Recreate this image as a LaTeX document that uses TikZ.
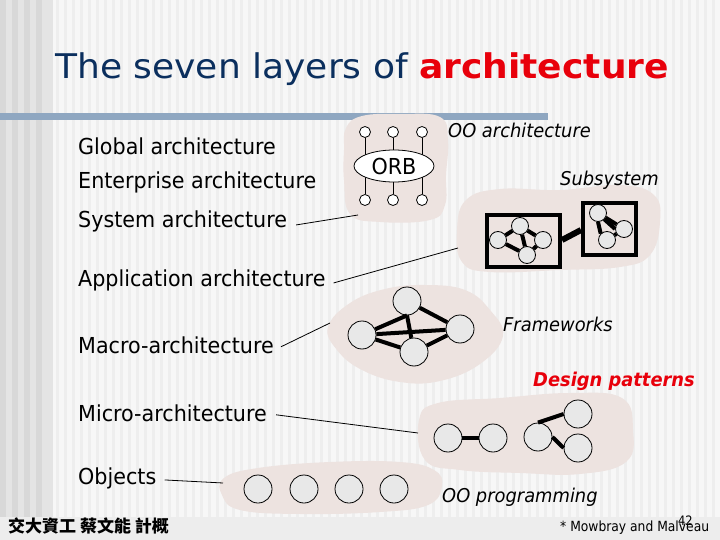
\documentclass[tikz,border=0pt]{standalone}
\usepackage{fontspec}
\setmainfont{DejaVu Sans}
\newfontfamily\tah[FakeStretch=0.94]{DejaVu Sans}
\newfontfamily\tahn[FakeStretch=0.88]{DejaVu Sans}
\newfontfamily\ttl[FakeStretch=1.06]{DejaVu Sans}
\newfontfamily\cjk{Noto Sans CJK TC}
\usetikzlibrary{shapes.geometric}
\definecolor{titleblue}{HTML}{0B2F5E}
\definecolor{titlered}{HTML}{E8000B}
\definecolor{barblue}{HTML}{8FA7C1}
\definecolor{blobc}{HTML}{EDE3E0}
\definecolor{objc}{HTML}{E8E8E8}
\definecolor{bgc}{HTML}{F7F7F7}
\definecolor{stripec}{HTML}{EEEEEE}
\definecolor{darkstripe}{HTML}{D8D8D8}
\definecolor{midstripe}{HTML}{E4E4E4}
\definecolor{bandc}{HTML}{EDEDED}
\begin{document}
\begin{tikzpicture}[x=1pt,y=-1pt,
  lbl/.style={anchor=base west, inner sep=0pt, font=\tah\fontsize{22}{22}\selectfont},
  itl/.style={anchor=base west, inner sep=0pt, font=\tah\itshape\fontsize{19}{19}\selectfont},
  blob/.style={fill=blobc, draw=none},
  objnode/.style={circle, draw, fill=objc, minimum size=28pt, inner sep=0pt, line width=0.8pt},
  sobj/.style={circle, draw, fill=objc, minimum size=17pt, inner sep=0pt, line width=0.8pt},
  port/.style={circle, draw, fill=white, minimum size=11pt, inner sep=0pt, line width=0.8pt},
  link/.style={line width=4pt},
  lead/.style={line width=0.8pt},
  boxnode/.style={draw, line width=4pt, inner sep=0pt}]
% background
\useasboundingbox (0,0) rectangle (720,540);
\fill[bgc] (0,0) rectangle (720,540);
\foreach \x in {56,64,...,716} \fill[stripec] (\x,0) rectangle ++(3,517);
\fill[midstripe] (0,0) rectangle (53,517);
\foreach \x in {0,12,24,36} \fill[darkstripe] (\x,0) rectangle ++(6,517);
\fill[bandc] (0,517) rectangle (720,540);
\fill[barblue] (0,113) rectangle (548,120);
% title
\node[anchor=base west, inner sep=0pt, font=\ttl\fontsize{34}{34}\selectfont] (title) at (55,79)
  {\textcolor{titleblue}{The seven layers of }\textcolor{titlered}{\bfseries architecture}};
% blobs
\fill[blob] plot[smooth cycle, tension=0.7] coordinates {(346,128) (362,116) (400,114) (440,117) (448,140) (446,175) (445,205) (430,220) (380,222) (350,214) (344,180) (344,150)};
\fill[blob] plot[smooth cycle, tension=0.7] coordinates {(466,200) (500,189) (560,190) (620,185) (654,195) (660,222) (650,255) (620,267) (560,270) (490,272) (462,262) (457,230)};
\fill[blob] plot[smooth cycle, tension=0.7] coordinates {(328,327) (350,303) (385,289) (425,285) (465,290) (490,310) (503,336) (480,364) (440,381) (400,382) (362,370) (337,350)};
\fill[blob] plot[smooth cycle, tension=0.7] coordinates {(419,420) (438,403) (500,398) (570,393) (622,398) (633,430) (626,462) (580,474) (520,473) (460,470) (425,460)};
\fill[blob] plot[smooth cycle, tension=0.7] coordinates {(224,478) (258,468) (330,462) (400,462) (434,470) (442,486) (428,505) (380,512) (300,514) (240,510) (222,495)};
% left labels
\node[lbl] (glob) at (78,155) {Global architecture};
\node[lbl] (ent) at (78,189) {Enterprise architecture};
\node[lbl] (sys) at (78,228) {System architecture};
\node[lbl] (app) at (78,286) {Application architecture};
\node[lbl] (mac) at (78,353) {Macro-architecture};
\node[lbl] (mic) at (78,421) {Micro-architecture};
\node[lbl] (objs) at (78,484) {Objects};
% lead line ends
\coordinate (csys) at (358,215);
\coordinate (capp) at (458,248);
\coordinate (cmac) at (330,323);
\coordinate (cmic) at (418,433);
\coordinate (cobj) at (223,483);
\draw[lead] ([xshift=9pt,yshift=-3pt]sys.east) -- (csys);
\draw[lead] ([xshift=8pt,yshift=-3pt]app.east) -- (capp);
\draw[lead] ([xshift=7pt,yshift=-2pt]mac.east) -- (cmac);
\draw[lead] ([xshift=9pt,yshift=-2pt]mic.east) -- (cmic);
\draw[lead] ([xshift=8pt,yshift=-2pt]objs.east) -- (cobj);
% ORB
\node[port] (p1) at (365,132) {};
\node[port] (p2) at (393,132) {};
\node[port] (p3) at (422,132) {};
\node[port] (p4) at (365,200) {};
\node[port] (p5) at (393,200) {};
\node[port] (p6) at (422,200) {};
\draw[lead] (p1) -- (p4);
\draw[lead] (p2) -- (p5);
\draw[lead] (p3) -- (p6);
\node[ellipse, draw, fill=white, line width=0.8pt, minimum width=80pt, minimum height=32pt, inner sep=0pt,
  font=\tah\fontsize{22}{22}\selectfont] (orb) at (394,166) {ORB};
\node[itl] (ooarch) at (448,138) {OO architecture};
% Subsystem
\node[itl] (subsys) at (560,186) {Subsystem};
\node[boxnode, minimum width=73pt, minimum height=52pt] (b1) at (523.5,241) {};
\node[boxnode, minimum width=53pt, minimum height=52pt] (b2) at (609.5,229) {};
\draw[line width=6pt] ([yshift=1pt]b1.east) -- ([yshift=-1pt]b2.west);
\node[sobj] (s1) at (498,240) {};
\node[sobj] (s2) at (520,226) {};
\node[sobj] (s3) at (543,240) {};
\node[sobj] (s4) at (527,255) {};
\draw[link] (s1) -- (s2);
\draw[link] (s2) -- (s4);
\draw[link] (s2) -- (s3);
\draw[link] (s1) -- (s4);
\draw[link] (s3) -- (s4);
\node[sobj] (t1) at (598,213) {};
\node[sobj] (t2) at (624,229) {};
\node[sobj] (t3) at (607,240) {};
\draw[link] (t1) -- (t2);
\draw[link] (t3) -- (t2);
\draw[link] (t1.south) -- (t3.north west);
\draw[link] (t1.south east) -- (t2.west);
% Frameworks
\node[objnode] (f1) at (407,301) {};
\node[objnode] (f2) at (362,335) {};
\node[objnode] (f3) at (414,352) {};
\node[objnode] (f4) at (460,329) {};
\draw[link] (f1) -- (f4);
\draw[link] (f2) -- (f4);
\draw[link] (f2) -- (f1.south);
\draw[link] (f1.south) -- (f3);
\draw[link] (f2) -- (f3);
\draw[link] (f3) -- (f4);
\node[itl] (fw) at (503,331) {Frameworks};
\node[itl, font=\tah\bfseries\itshape\fontsize{19}{19}\selectfont, text=titlered] (dp) at (533,386) {Design patterns};
% Micro
\node[objnode] (m1) at (448,438) {};
\node[objnode] (m2) at (493,438) {};
\node[objnode] (m3) at (538,437) {};
\node[objnode] (m4) at (578,414) {};
\node[objnode] (m5) at (578,448) {};
\draw[link] (m1) -- (m2);
\draw[link] (m3.north) -- (m4.west);
\draw[link] (m3.east) -- (m5.west);
% Objects
\node[objnode] (o1) at (258,489) {};
\node[objnode] (o2) at (304,489) {};
\node[objnode] (o3) at (349,489) {};
\node[objnode] (o4) at (394,489) {};
\node[itl] (oop) at (442,502) {OO programming};
% footer
\node[anchor=base west, inner sep=0pt, font=\cjk\bfseries\fontsize{17}{17}\selectfont] (foot) at (8,532) {交大資工 蔡文能 計概};
\node[anchor=base west, inner sep=0pt, font=\tahn\fontsize{14}{14}\selectfont] (cite) at (560,531) {* Mowbray and Malveau};
\node[anchor=base west, inner sep=0pt, font=\tahn\fontsize{13}{13}\selectfont] (pg) at (678,525) {42};
\end{tikzpicture}
\end{document}
